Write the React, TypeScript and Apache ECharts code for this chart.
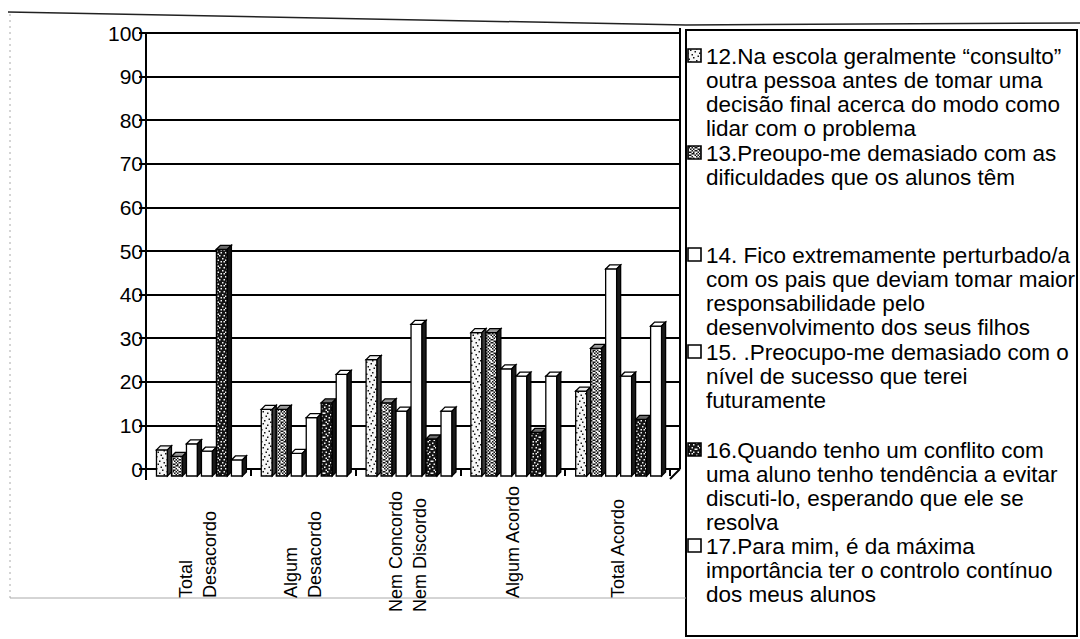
import { useEffect, useRef } from "react";
import * as echarts from "echarts";

const FONT = '"Liberation Sans", Arial, Helvetica, sans-serif';

const categories = [
  "Total\nDesacordo",
  "Algum\nDesacordo",
  "Nem Concordo\nNem Discordo",
  "Algum Acordo",
  "Total Acordo",
];

const s12 = [5.3, 14.6, 26.0, 32.2, 18.8];
const s13 = [3.8, 14.6, 16.1, 32.2, 28.6];
const s14 = [6.7, 4.5, 14.2, 23.9, 46.8];
const s15 = [5.0, 12.7, 34.1, 22.2, 22.2];
const s16 = [51.3, 16.1, 7.8, 9.3, 12.3];
const s17 = [3.0, 22.6, 14.2, 22.2, 33.7];

const seriesValues = [s12, s13, s14, s15, s16, s17];
const seriesNames = ["12", "13", "14", "15", "16", "17"];

const legendLines = [
  [
    "12.Na escola geralmente \u201cconsulto\u201d",
    "outra pessoa antes de tomar uma",
    "decisão final acerca do modo como",
    "lidar com o problema",
  ],
  ["13.Preoupo-me demasiado com as", "dificuldades que os alunos têm"],
  [
    "14. Fico extremamente perturbado/a",
    "com os pais que deviam tomar maior",
    "responsabilidade pelo",
    "desenvolvimento dos seus filhos",
  ],
  [
    "15. .Preocupo-me demasiado com o",
    "nível de sucesso que terei",
    "futuramente",
  ],
  [
    "16.Quando tenho um conflito com",
    "uma aluno tenho tendência a evitar",
    "discuti-lo, esperando que ele se",
    "resolva",
  ],
  [
    "17.Para mim, é da máxima",
    "importância ter o controlo contínuo",
    "dos meus alunos",
  ],
];

const yMin = 0;
const yMax = 100;
const yInterval = 10;

// styling (not data)
const solidFront = ["#d4d4d4", "#8a8a8a", "#ffffff", "#ffffff", "#5a5a5a", "#ffffff"];
const topColors = ["#eeeeee", "#9a9a9a", "#ffffff", "#ffffff", "#6a6a6a", "#ffffff"];
const sideColors = ["#3a3a3a", "#1a1a1a", "#1a1a1a", "#1a1a1a", "#111111", "#1a1a1a"];
// speckle masks (1 = dark dot) for textured faces
const speckleMasks: (string[] | null)[] = [
  ["10000000", "00001000", "00000001", "00100000", "00000100", "01000000", "00000010", "00010000"],
  ["10100100", "01011010", "10010101", "01101010", "10100101", "01011010", "10100110", "01011001"],
  null,
  null,
  ["11101101", "10111111", "11011011", "01111110", "11110111", "10111101", "11101011", "01111111"],
  null,
];
const legendFirstLineY = [56, 153, 255, 352, 450, 546];
const LEGEND_LH = 24.3;
const LONG_LABEL_INDEX = 2;

function makePattern(mask: string[] | null, base: string): any {
  if (!mask) return base;
  try {
    const n = mask.length;
    const c = document.createElement("canvas");
    c.width = n * 3;
    c.height = n * 3;
    const ctx = c.getContext("2d");
    if (!ctx) return base;
    ctx.fillStyle = "#f6f6f6";
    ctx.fillRect(0, 0, c.width, c.height);
    ctx.fillStyle = "#151515";
    const cell = c.width / n;
    for (let r = 0; r < n; r++) {
      for (let col = 0; col < n; col++) {
        if (mask[r][col] === "1") ctx.fillRect(col * cell, r * cell, cell, cell);
      }
    }
    return { image: c, repeat: "repeat", scaleX: 0.5, scaleY: 0.5 };
  } catch (e) {
    return base;
  }
}

export default function App() {
  const ref = useRef<HTMLDivElement>(null);

  useEffect(() => {
    const chart = echarts.init(ref.current!, null, { renderer: "svg" });
    const DX = 4;
    const DY = 4;
    const frontFills = speckleMasks.map((m, i) => makePattern(m, solidFront[i]));

    const series = seriesValues.map((vals, si) => ({
      type: "custom",
      name: seriesNames[si],
      xAxisIndex: 0,
      yAxisIndex: 0,
      z: 3,
      data: vals.map((v, i) => [i, v]),
      renderItem: (params: any, api: any) => {
        const ci = api.value(0);
        const v = api.value(1);
        const top = api.coord([ci, v]);
        const bot = api.coord([ci, 0]);
        const band = api.size([1, 0])[0];
        const slot = band * 0.143;
        const fw = slot - DX;
        const x0 = top[0] - band / 2 + band * 0.1 + si * slot;
        const yt = top[1];
        const yb = bot[1] + 7;
        return {
          type: "group",
          children: [
            {
              type: "rect",
              shape: { x: x0, y: yt + DY, width: fw, height: yb - (yt + DY) },
              style: { fill: frontFills[si], stroke: "#000", lineWidth: 1.3 },
            },
            {
              type: "polygon",
              shape: {
                points: [
                  [x0, yt + DY],
                  [x0 + DX, yt],
                  [x0 + DX + fw, yt],
                  [x0 + fw, yt + DY],
                ],
              },
              style: { fill: topColors[si], stroke: "#000", lineWidth: 1.3 },
            },
            {
              type: "polygon",
              shape: {
                points: [
                  [x0 + fw, yt + DY],
                  [x0 + fw + DX, yt],
                  [x0 + fw + DX, yb - DY],
                  [x0 + fw, yb],
                ],
              },
              style: { fill: sideColors[si], stroke: "#000", lineWidth: 1.3 },
            },
          ],
        };
      },
    }));

    const legendGraphics: any[] = [];
    legendLines.forEach((lines, i) => {
      const cy = legendFirstLineY[i];
      legendGraphics.push({
        type: "rect",
        shape: { x: 688, y: cy - 7, width: 13, height: 13 },
        style: { fill: frontFills[i], stroke: "#000", lineWidth: 1.6 },
      });
      legendGraphics.push({
        type: "text",
        x: 706,
        y: cy - LEGEND_LH / 2,
        style: {
          text: lines.join("\n"),
          fontSize: 22.5,
          fontFamily: FONT,
          lineHeight: LEGEND_LH,
          fill: "#000",
          verticalAlign: "top",
          align: "left",
        },
      });
    });

    const frameGraphics: any[] = [
      {
        type: "polyline",
        shape: { points: [[8, 12], [686, 25], [1080, 23]] },
        style: { stroke: "#222", lineWidth: 1.5, fill: "none" },
      },
      {
        type: "rect",
        shape: { x: 686, y: 30, width: 391, height: 606 },
        style: { fill: "none", stroke: "#000", lineWidth: 2 },
      },
      {
        type: "line",
        shape: { x1: 10, y1: 14, x2: 10, y2: 598 },
        style: { stroke: "#aaa", lineWidth: 1, lineDash: [2, 4] },
      },
      {
        type: "line",
        shape: { x1: 10, y1: 598, x2: 686, y2: 598 },
        style: { stroke: "#aaa", lineWidth: 1 },
      },
      {
        type: "line",
        shape: { x1: 680, y1: 28, x2: 680, y2: 469 },
        style: { stroke: "#000", lineWidth: 2 },
      },
      {
        type: "line",
        shape: { x1: 670, y1: 479, x2: 680, y2: 469 },
        style: { stroke: "#000", lineWidth: 2 },
      },
      {
        type: "line",
        shape: { x1: 146, y1: 469, x2: 146, y2: 480 },
        style: { stroke: "#000", lineWidth: 2 },
      },
    ];

    const labelBase = {
      interval: 0,
      rotate: 90,
      align: "left",
      verticalAlign: "middle",
      fontSize: 18,
      fontFamily: FONT,
      color: "#000",
      lineHeight: 24,
      overflow: "none",
      hideOverlap: false,
    };

    const option: any = {
      animation: false,
      backgroundColor: "#fff",
      grid: [
        { left: 146, top: 33, width: 524, height: 436, containLabel: false, outerBoundsMode: "none" },
        { left: 146, top: 33, width: 534, height: 436, containLabel: false, outerBoundsMode: "none" },
      ],
      xAxis: [
        {
          type: "category",
          gridIndex: 0,
          position: "bottom",
          data: categories,
          offset: 10,
          axisLine: { show: true, lineStyle: { color: "#000", width: 2 } },
          axisTick: { show: true, length: 7, lineStyle: { color: "#000", width: 2 } },
          axisLabel: {
            ...labelBase,
            margin: 119,
            formatter: (val: string, idx: number) => (idx === LONG_LABEL_INDEX ? "" : val),
          },
          splitLine: { show: false },
        },
        { type: "category", gridIndex: 1, data: categories, show: false },
        {
          type: "category",
          gridIndex: 0,
          position: "bottom",
          data: categories,
          offset: 10,
          axisLine: { show: false },
          axisTick: { show: false },
          axisLabel: {
            ...labelBase,
            margin: 133,
            formatter: (val: string, idx: number) => (idx === LONG_LABEL_INDEX ? val : ""),
          },
          splitLine: { show: false },
        },
      ],
      yAxis: [
        {
          type: "value",
          gridIndex: 0,
          min: yMin,
          max: yMax,
          interval: yInterval,
          show: false,
          splitLine: { show: false },
        },
        {
          type: "value",
          gridIndex: 1,
          min: yMin,
          max: yMax,
          interval: yInterval,
          axisLine: { show: true, lineStyle: { color: "#000", width: 2 } },
          axisTick: { show: true, length: 7, lineStyle: { color: "#000", width: 2 } },
          axisLabel: { fontSize: 21, fontFamily: FONT, color: "#000", margin: 3 },
          splitLine: { show: true, lineStyle: { color: "#000", width: 2 } },
        },
      ],
      series,
      graphic: [...frameGraphics, ...legendGraphics],
    };

    chart.setOption(option);
    return () => chart.dispose();
  }, []);

  return (
    <div
      ref={ref}
      style={{ position: "absolute", left: 0, top: 0, width: 1080, height: 639 }}
    />
  );
}
